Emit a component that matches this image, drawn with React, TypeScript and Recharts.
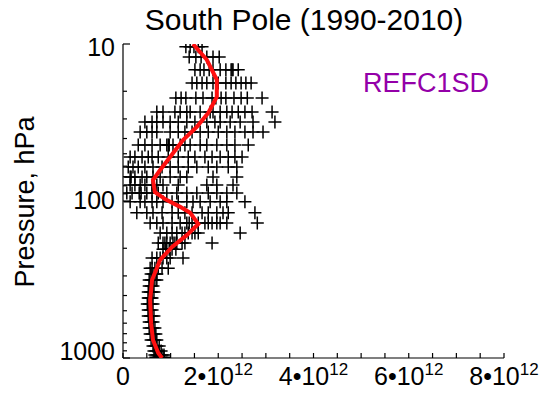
import { ScatterChart, Scatter, XAxis, YAxis } from 'recharts'

// pressure levels (hPa) of the sampled profiles
const levels = [
  10.4, 12.1, 14.6, 17.7, 22.1, 27.1, 31.4, 36.4, 44, 52.5, 60.7, 70.3, 79, 88.8, 101,
  119, 138, 160, 185, 203, 231, 268,
  292, 318, 348, 380, 415, 453, 495, 540, 590, 644, 703, 768, 839, 902, 957, 990,
]

// columns at each level (units of 10^12)
const samples = [
  [1.32, 1.41, 1.49, 1.58, 1.66],
  [1.39, 1.53, 1.64, 1.76, 1.89, 2.02],
  [1.51, 1.62, 1.7, 1.81, 1.89, 2.04, 2.16, 2.27, 2.29, 2.31, 2.42],
  [1.45, 1.55, 1.66, 1.76, 1.89, 2.0, 2.16, 2.27, 2.37, 2.48, 2.58, 2.69],
  [1.11, 1.22, 1.32, 1.53, 1.68, 1.87, 1.95, 2.06, 2.16, 2.33, 2.48, 2.61, 2.92],
  [0.71, 0.84, 1.09, 1.2, 1.34, 1.41, 1.62, 1.83, 1.89, 2.04, 2.18, 2.29, 2.42, 2.56, 2.71, 3.13],
  [0.46, 0.61, 0.71, 0.84, 0.99, 1.16, 1.34, 1.51, 1.76, 1.93, 2.04, 2.25, 2.46, 2.73, 3.19],
  [0.36, 0.5, 0.61, 0.71, 0.99, 1.16, 1.3, 1.45, 1.62, 1.79, 2.0, 2.18, 2.35, 2.56, 2.73, 2.94],
  [0.32, 0.46, 0.61, 0.78, 0.92, 0.95, 0.97, 1.05, 1.2, 1.3, 1.41, 1.62, 1.76, 1.97, 2.18, 2.35, 2.63],
  [0.15, 0.25, 0.4, 0.53, 0.61, 0.74, 0.95, 1.16, 1.37, 1.51, 1.72, 1.87, 2.04, 2.21, 2.35, 2.5],
  [0.11, 0.21, 0.32, 0.46, 0.63, 0.82, 0.99, 1.16, 1.37, 1.55, 1.79, 1.97, 2.21, 2.39],
  [0.15, 0.17, 0.25, 0.4, 0.5, 0.63, 0.78, 0.99, 1.2, 1.34, 1.89, 2.39],
  [0.15, 0.25, 0.36, 0.46, 0.61, 0.71, 0.84, 1.16, 1.76, 1.97, 2.31],
  [0.08, 0.19, 0.34, 0.38, 0.5, 0.61, 0.74, 0.92, 1.13, 1.34, 1.55, 1.79, 1.97, 2.18, 2.39],
  [0.15, 0.36, 0.46, 0.61, 0.71, 0.84, 1.03, 1.16, 1.34, 1.47, 1.62, 1.83, 2.04, 2.18, 2.56],
  [0.29, 0.5, 0.63, 0.82, 1.03, 1.16, 1.3, 1.45, 1.66, 1.79, 1.97, 2.1, 2.21, 2.77],
  [0.57, 0.71, 0.84, 1.03, 1.2, 1.34, 1.39, 1.45, 1.58, 1.72, 1.79, 1.87, 1.97, 2.04, 2.18, 2.82],
  [0.78, 0.92, 1.03, 1.13, 1.24, 1.3, 1.37, 1.45, 1.51, 1.58, 2.46],
  [0.74, 0.84, 0.88, 0.92, 0.99, 1.05, 1.09, 1.13, 1.24, 1.3, 1.87],
  [0.84, 0.9, 0.97, 1.03, 1.11],
  [0.61, 0.71, 0.78, 0.84, 0.92, 0.99, 1.26],
  [0.57, 0.61, 0.67, 0.74, 0.82, 0.95],
  [0.59, 0.63, 0.67, 0.71],
  [0.55, 0.59, 0.63, 0.67, 0.71],
  [0.55, 0.59, 0.63],
  [0.53, 0.57, 0.61, 0.65],
  [0.53, 0.55, 0.59, 0.61],
  [0.51, 0.55, 0.59, 0.63],
  [0.53, 0.57, 0.61],
  [0.53, 0.57, 0.61, 0.65],
  [0.55, 0.59, 0.63],
  [0.55, 0.59, 0.63, 0.67],
  [0.57, 0.61, 0.65, 0.69],
  [0.59, 0.63, 0.67, 0.71],
  [0.63, 0.67, 0.71, 0.76],
  [0.65, 0.69, 0.74, 0.8],
  [0.67, 0.71, 0.76, 0.82, 0.86],
  [0.69, 0.74, 0.8, 0.86],
]

// mean profile (red)
const profilePressure = [
  10, 12.6, 16.9, 21.7, 27.5, 33.7, 40.9, 52.5, 63.4, 73.5, 87.7, 98,
  109, 119, 140, 165, 196, 237, 318, 428, 600, 768, 930, 1000,
]
const profileValue = [
  1.47, 1.76, 1.97, 1.97, 1.79, 1.55, 1.26, 0.99, 0.78, 0.63, 0.67, 0.9,
  1.2, 1.41, 1.58, 1.34, 1.03, 0.78, 0.61, 0.57, 0.59, 0.63, 0.74, 0.82,
]

const xTicks = [0, 0.5, 1, 1.5, 2, 2.5, 3, 3.5, 4, 4.5, 5, 5.5, 6, 6.5, 7, 7.5, 8]
const xLabels = [0, 2, 4, 6, 8]
const yTicks = [10, 20, 30, 40, 50, 60, 70, 80, 90, 100, 200, 300, 400, 500, 600, 700, 800, 900, 1000]
const yLabels = [10, 100, 1000]

const points = levels.flatMap((p, i) => samples[i].map((x) => ({ x, p })))
const profile = profilePressure.map((p, i) => ({ x: profileValue[i], p }))

const FONT = '"Liberation Sans", Arial, Helvetica, sans-serif'

const Cross = (props: any) => {
  const { cx, cy } = props
  if (cx == null || cy == null) return <g />
  return (
    <path
      d={`M${cx - 6.5},${cy}H${cx + 6.5}M${cx},${cy - 6.5}V${cy + 6.5}`}
      stroke="#000"
      strokeWidth={1.5}
      fill="none"
    />
  )
}

const BottomTick = (props: any) => {
  const { x, y, payload } = props
  const v = payload.value
  return (
    <g>
      <line x1={x} y1={y} x2={x} y2={y - 5} stroke="#000" strokeWidth={1.2} />
      {xLabels.includes(v) && (
        <text x={x} y={y + 27} textAnchor="middle" fontSize={25} fontFamily={FONT} fill="#000">
          {v === 0 ? '0' : `${v}\u202210`}
          {v !== 0 && (
            <tspan dy={-10} fontSize={17}>
              12
            </tspan>
          )}
        </text>
      )}
    </g>
  )
}

const TopTick = (props: any) => {
  const { x, y } = props
  return <line x1={x} y1={y} x2={x} y2={y + 5} stroke="#000" strokeWidth={1.2} />
}

// label baseline shifts so the end labels sit inside the frame, as in the original
const labelShift: Record<number, number> = { 10: 12, 100: 8, 1000: 2 }

const LeftTick = (props: any) => {
  const { x, y, payload } = props
  const v = payload.value
  const major = yLabels.includes(v)
  return (
    <g>
      <line x1={x} y1={y} x2={x + (major ? 7 : 4)} y2={y} stroke="#000" strokeWidth={1.2} />
      {major && (
        <text x={x - 8} y={y + labelShift[v]} textAnchor="end" fontSize={25} fontFamily={FONT} fill="#000">
          {v}
        </text>
      )}
    </g>
  )
}

const RightTick = (props: any) => {
  const { x, y, payload } = props
  const major = yLabels.includes(payload.value)
  return <line x1={x} y1={y} x2={x - (major ? 7 : 4)} y2={y} stroke="#000" strokeWidth={1.2} />
}

const axisLine = { stroke: '#000', strokeWidth: 1.2 }

export default function App() {
  return (
    <div style={{ position: 'absolute', left: 0, top: 0, width: 539, height: 400, background: '#fff' }}>
      <ScatterChart width={539} height={400} margin={{ top: 44, right: 35, bottom: 0, left: 0 }}>
        <XAxis
          xAxisId="b"
          type="number"
          dataKey="x"
          domain={[0, 8]}
          allowDataOverflow
          ticks={xTicks}
          interval={0}
          height={42}
          tickSize={0}
          tickMargin={0}
          axisLine={axisLine}
          tickLine={false}
          tick={<BottomTick />}
        />
        <XAxis
          xAxisId="t"
          orientation="top"
          type="number"
          dataKey="x"
          domain={[0, 8]}
          allowDataOverflow
          ticks={xTicks}
          interval={0}
          height={0}
          tickSize={0}
          tickMargin={0}
          axisLine={axisLine}
          tickLine={false}
          tick={<TopTick />}
        />
        <YAxis
          yAxisId="l"
          type="number"
          dataKey="p"
          scale="log"
          domain={[10, 1000]}
          allowDataOverflow
          reversed
          ticks={yTicks}
          interval={0}
          width={123}
          tickSize={0}
          tickMargin={0}
          axisLine={axisLine}
          tickLine={false}
          tick={<LeftTick />}
        />
        <YAxis
          yAxisId="r"
          orientation="right"
          type="number"
          dataKey="p"
          scale="log"
          domain={[10, 1000]}
          allowDataOverflow
          reversed
          ticks={yTicks}
          interval={0}
          width={0}
          tickSize={0}
          tickMargin={0}
          axisLine={axisLine}
          tickLine={false}
          tick={<RightTick />}
        />
        <Scatter
          xAxisId="t"
          yAxisId="r"
          data={profile}
          shape={() => <g />}
          isAnimationActive={false}
        />
        <Scatter
          xAxisId="b"
          yAxisId="l"
          data={points}
          shape={(p: any) => <Cross {...p} />}
          isAnimationActive={false}
        />
        <Scatter
          xAxisId="b"
          yAxisId="l"
          data={profile}
          fill="#ff0000"
          line={{ stroke: '#ff1010', strokeWidth: 4 }}
          shape={() => <g />}
          isAnimationActive={false}
        />
      </ScatterChart>
      <svg
        width={539}
        height={400}
        style={{ position: 'absolute', left: 0, top: 0, pointerEvents: 'none' }}
      >
        <text x={304} y={30} textAnchor="middle" fontSize={30} fontFamily={FONT} fill="#000">
          South Pole (1990-2010)
        </text>
        <text
          x={34}
          y={202}
          transform="rotate(-90, 34, 202)"
          textAnchor="middle"
          fontSize={27}
          fontFamily={FONT}
          fill="#000"
        >
          Pressure, hPa
        </text>
        <text x={363} y={92} fontSize={27} fontFamily={FONT} fill="#9400a8">
          REFC1SD
        </text>
      </svg>
    </div>
  )
}
